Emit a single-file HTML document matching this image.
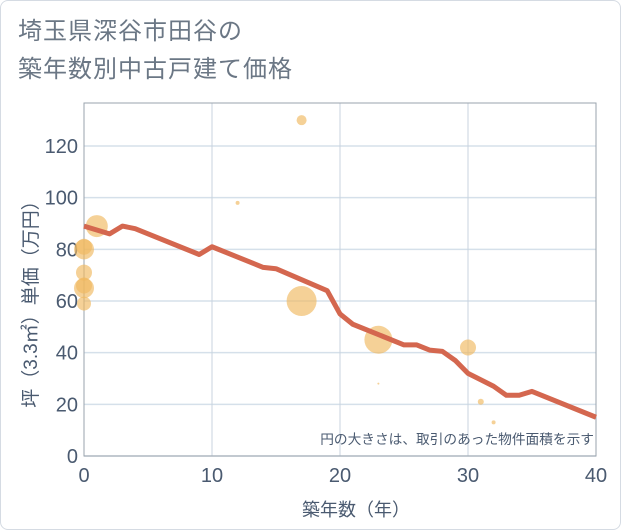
<!DOCTYPE html>
<html><head><meta charset="utf-8"><style>
body{margin:0;background:#fff;font-family:"Liberation Sans","Noto Sans CJK JP",sans-serif;}
#card{position:absolute;left:0;top:0;width:619px;height:528px;border:1px solid #d5dbe3;border-radius:8px;background:#fff;}
#title{position:absolute;left:18px;top:13px;font-size:24px;line-height:38px;color:#6b7785;letter-spacing:1px;}
</style></head><body>
<div id="card"></div>
<div id="title">埼玉県深谷市田谷の<br>築年数別中古戸建て価格</div>
<svg id="chart" width="621" height="530" style="position:absolute;left:0;top:0"></svg>
<script>
const xTicks=[0,10,20,30,40];
const yTicks=[0,20,40,60,80,100,120];
const lineX=[0,2,3,4,9,10,14,15,19,20,21,23,25,26,27,28,29,30,32,33,34,35,40];
const lineY=[89,86,89,88,78,81,73,72.5,64,55,51,47,43,43,41,40.5,37,32,27,23.5,23.5,25,15];
const bubX=[0,0,0,0,0,0,1,12,17,17,23,23,30,31,32];
const bubY=[59,65,66,71,80,81,89,98,130,60,45,28,42,21,13];
const bubR=[7,10,8,8,10,8,11,2,5,15,14,1,8,3,2];
const L=84,R=596,T=103,B=456;
const sx=v=>L+(v-0)/40*(R-L);
const sy=v=>B-v/120*(B-146);
const svg=document.getElementById('chart');
const NS='http://www.w3.org/2000/svg';
function mk(t,a){const e=document.createElementNS(NS,t);for(const k in a)e.setAttribute(k,a[k]);svg.appendChild(e);return e;}
yTicks.forEach(v=>{
 const g=mk('line',{x1:L,x2:R,y1:sy(v),y2:sy(v),stroke:'#d5e0ea','stroke-width':1.5});
 
 
 const t=mk('text',{x:L-6,y:sy(v)+7,'text-anchor':'end','font-size':20,fill:'#4a5a70'});
 t.textContent=v;
 
 
});
xTicks.forEach(v=>{
 const g=mk('line',{x1:sx(v),x2:sx(v),y1:T,y2:B,stroke:'#c8d3df','stroke-width':1});
 
 
 const t=mk('text',{x:sx(v),y:B+26,'text-anchor':'middle','font-size':20,fill:'#4a5a70'});
 t.textContent=v;
 
 
});
const fr=mk('rect',{x:L,y:T,width:R-L,height:B-T,fill:'none',stroke:'#9aa3ad','stroke-width':1});


bubX.forEach((x,i)=>{
 const c=mk('circle',{cx:sx(x),cy:sy(bubY[i]),r:bubR[i],fill:'#f0b860','fill-opacity':0.65});
 
 
});
const pl=mk('polyline',{points:lineX.map((x,i)=>sx(x)+','+sy(lineY[i])).join(' '),fill:'none',stroke:'#d4674f','stroke-width':5,'stroke-linejoin':'round'});


const note=mk('text',{x:R-2,y:B-12,'text-anchor':'end','font-size':13.7,fill:'#4a5a70'});
note.textContent='円の大きさは、取引のあった物件面積を示す';


const xt=mk('text',{x:(L+R)/2+16,y:516,'text-anchor':'middle','font-size':18,fill:'#4a5a70'});
xt.textContent='築年数（年）';


const yt=mk('text',{x:0,y:0,'text-anchor':'middle','font-size':19,fill:'#4a5a70',transform:'translate(37,'+((T+B)/2+20)+') rotate(-90)'});
yt.textContent='坪（3.3㎡）単価（万円）';


</script>
</body></html>
